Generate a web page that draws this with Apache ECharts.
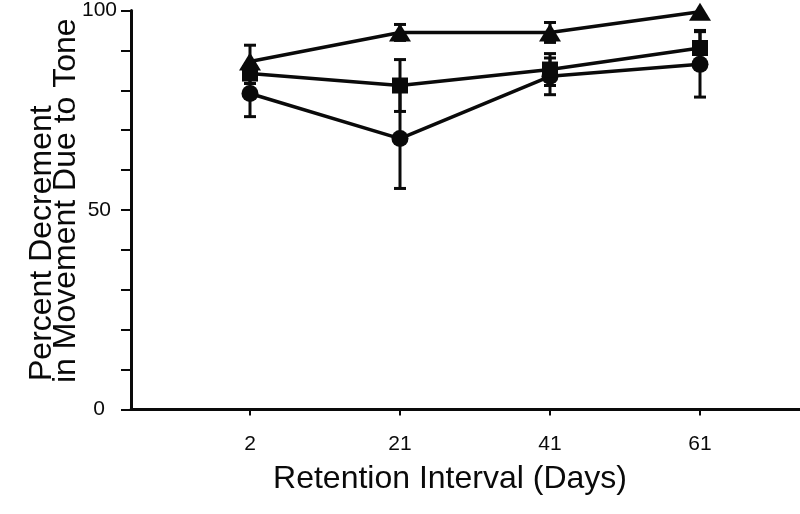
<!DOCTYPE html>
<html>
<head>
<meta charset="utf-8">
<script src="https://cdn.jsdelivr.net/npm/echarts@6/dist/echarts.min.js"></script>
<style>html,body{margin:0;padding:0;background:#fff}#c{width:800px;height:514px}</style>
</head>
<body>
<div id="c"></div>
<script>
const days = ['2', '21', '41', '61'];
const circleMean = [79.2, 67.9, 83.5, 86.5];
const circleErr = [5.8, 12.5, 4.6, 8.2];
const squareMean = [84.2, 81.2, 85.2, 90.6];
const squareErr = [2.5, 6.5, 4.0, 4.4];
const triangleMean = [87.2, 94.5, 94.5, 99.7];
const triangleErr = [4.1, 2.0, 2.5, 0];
const yTicks = [0, 50, 100];
const xTitle = 'Retention Interval (Days)';
const yTitle1 = 'Percent Decrement';
const yTitle2 = 'in Movement Due to Tone';

const FONT = 'Liberation Sans, Arial, Helvetica, sans-serif';
const INK = '#0a0a0a';

function pts(arr) { return arr.map((v, i) => [i, v]); }
function errPts(mean, err) { return mean.map((v, i) => [i, v, err[i]]); }

function errRender(params, api) {
  const x = api.value(0), m = api.value(1), e = api.value(2);
  if (!e) return null;
  const top = api.coord([x, m + e]);
  const bot = api.coord([x, m - e]);
  const hw = 6;
  const st = { stroke: INK, lineWidth: 3 };
  return {
    type: 'group',
    children: [
      { type: 'line', shape: { x1: top[0], y1: top[1], x2: bot[0], y2: bot[1] }, style: st },
      { type: 'line', shape: { x1: top[0] - hw, y1: top[1], x2: top[0] + hw, y2: top[1] }, style: st },
      { type: 'line', shape: { x1: bot[0] - hw, y1: bot[1], x2: bot[0] + hw, y2: bot[1] }, style: st }
    ]
  };
}

function lineSeries(name, data, symbol, size) {
  return {
    name, type: 'line', data: pts(data), symbol, symbolSize: size,
    showSymbol: true, clip: false, z: 3,
    lineStyle: { color: INK, width: 3.5 },
    itemStyle: { color: INK, borderWidth: 0 },
    emphasis: { disabled: true }, animation: false
  };
}
function errSeries(mean, err) {
  return {
    type: 'custom', renderItem: errRender, data: errPts(mean, err),
    encode: { x: 0, y: 1 }, clip: false, z: 2, animation: false, silent: true
  };
}

const chart = echarts.init(document.getElementById('c'), null, { renderer: 'canvas' });
chart.setOption({
  backgroundColor: '#fff',
  animation: false,
  grid: { left: 131, right: 0, top: 10, bottom: 104.5, containLabel: false },
  xAxis: {
    type: 'value', min: -0.7933, max: 3.6667,
    splitLine: { show: false },
    axisLine: { show: true, onZero: false, lineStyle: { color: INK, width: 3 } },
    axisTick: { show: true, customValues: [0, 1, 2, 3], length: 6, lineStyle: { color: INK, width: 2 } },
    axisLabel: {
      customValues: [0, 1, 2, 3], margin: 24,
      formatter: v => days[Math.round(v)] || '',
      color: INK, fontFamily: FONT, fontSize: 21
    }
  },
  yAxis: {
    type: 'value', min: 0, max: 100, interval: 10,
    splitLine: { show: false },
    axisLine: { show: true, onZero: false, lineStyle: { color: INK, width: 3 } },
    axisTick: { show: true, length: 10, lineStyle: { color: INK, width: 2 } },
    axisLabel: {
      margin: 14, color: INK, fontFamily: FONT, fontSize: 21,
      formatter: v => {
        if (yTicks.indexOf(v) < 0) return '';
        if (v === 0) return '{z|' + v + '}';
        if (v === 50) return '{f|' + v + '}';
        return '{h|' + v + '}';
      },
      rich: {
        z: { fontFamily: FONT, fontSize: 21, color: INK, padding: [0, 12, 0, 0] },
        f: { fontFamily: FONT, fontSize: 21, color: INK, padding: [0, 6, 0, 0] },
        h: { fontFamily: FONT, fontSize: 21, color: INK }
      }
    }
  },
  graphic: [
    { type: 'text', x: 450, y: 479, style: { text: xTitle, fill: INK, font: '32px ' + FONT, textAlign: 'center', textVerticalAlign: 'middle' } },
    { type: 'text', x: 42, y: 381, rotation: Math.PI / 2, style: { text: yTitle1, fill: INK, font: '32px ' + FONT, textAlign: 'left', textVerticalAlign: 'middle' } },
    { type: 'text', x: 66, y: 383, rotation: Math.PI / 2, style: { text: yTitle2, fill: INK, font: '32px ' + FONT, textAlign: 'left', textVerticalAlign: 'middle' } }
  ],
  series: [
    errSeries(circleMean, circleErr),
    errSeries(squareMean, squareErr),
    errSeries(triangleMean, triangleErr),
    lineSeries('circle', circleMean, 'circle', 17),
    lineSeries('square', squareMean, 'rect', 16),
    lineSeries('triangle', triangleMean, 'triangle', [22, 18])
  ]
});
</script>
</body>
</html>
